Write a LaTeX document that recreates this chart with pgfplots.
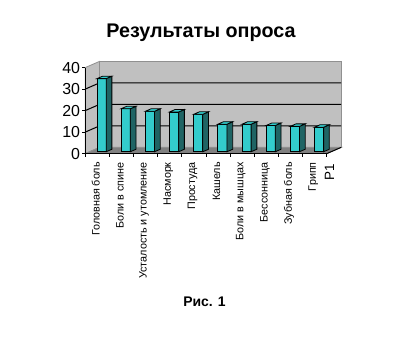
\documentclass[border=0pt]{standalone}
\usepackage{fontspec}
\setmainfont{Liberation Sans}
\usepackage{pgfplots}
\pgfplotsset{compat=1.18}
\usepackage{pgfplotstable}
\definecolor{wallgray}{HTML}{C0C0C0}
\definecolor{floorgray}{HTML}{808080}
\definecolor{edgegray}{HTML}{909090}
\definecolor{barfront}{HTML}{33CCCC}
\definecolor{barside}{HTML}{1F6464}
\definecolor{bartop}{HTML}{33CCCC}

\pgfplotstableread{
x v
0.5 34
1.5 20
2.5 18.8
3.5 18.5
4.5 17.4
5.5 12.8
6.5 12.8
7.5 12.2
8.5 11.8
9.5 11.4
}\datatable

% 3D column drawn around the data point (c, v) on the front plane
\pgfdeclareplotmark{bar3d}{%
  \pgfmathsetmacro\yb{1.86-\val*2.15}%
  \pgfmathsetmacro\ybb{4.34-\val*2.15}%
  \pgfsetlinewidth{0.8bp}%
  \pgfsetstrokecolor{black}%
  % front face
  \pgfsetfillcolor{barfront}%
  \pgfpathmoveto{\pgfqpoint{-0.31bp}{\yb bp}}%
  \pgfpathlineto{\pgfqpoint{8.89bp}{\yb bp}}%
  \pgfpathlineto{\pgfqpoint{8.89bp}{1.86bp}}%
  \pgfpathlineto{\pgfqpoint{-0.31bp}{1.86bp}}%
  \pgfpathclose
  \pgfusepath{fill,stroke}%
  % side face
  \pgfsetfillcolor{barside}%
  \pgfpathmoveto{\pgfqpoint{8.89bp}{\yb bp}}%
  \pgfpathlineto{\pgfqpoint{14.61bp}{\ybb bp}}%
  \pgfpathlineto{\pgfqpoint{14.61bp}{4.34bp}}%
  \pgfpathlineto{\pgfqpoint{8.89bp}{1.86bp}}%
  \pgfpathclose
  \pgfusepath{fill,stroke}%
  % top face
  \pgfsetfillcolor{bartop}%
  \pgfpathmoveto{\pgfqpoint{-0.31bp}{1.86bp}}%
  \pgfpathlineto{\pgfqpoint{8.89bp}{1.86bp}}%
  \pgfpathlineto{\pgfqpoint{14.61bp}{4.34bp}}%
  \pgfpathlineto{\pgfqpoint{5.41bp}{4.34bp}}%
  \pgfpathclose
  \pgfusepath{fill,stroke}%
}

\begin{document}
\begin{tikzpicture}
\path[use as bounding box] (0,0) rectangle (403bp,354bp);
\begin{axis}[
  at={(85.2bp,200.4bp)}, anchor=south west,
  x=24.16bp, y=2.15bp,
  xmin=0, xmax=10, ymin=0, ymax=40,
  clip=false,
  axis on top,
  axis x line*=bottom, axis y line*=left,
  axis line style={black, line width=1bp, -},
  ytick={0,10,20,30,40},
  tick align=outside,
  major tick length=3bp,
  minor tick length=3bp,
  tick style={black, line width=1bp},
  xtick={0.5,1.5,...,9.5},
  minor xtick={0,1,...,10},
  major x tick style={draw=none},
  xticklabels={Головная боль, Боли в спине, Усталость и утомление, Насморк, Простуда, Кашель, Боли в мышцах, Бессонница, Зубная боль, Грипп},
  xticklabel style={font=\fontsize{10.8}{11}\selectfont, rotate=90, anchor=east, inner sep=0pt, xshift=-5.5bp, yshift=1.5bp},
  yticklabel style={font=\fontsize{16}{16}\selectfont, inner sep=0pt, xshift=-2bp},
  /pgf/number format/assume math mode=true,
]
% walls and floor
\addplot[fill=wallgray, draw=edgegray, line width=0.8bp] coordinates {(0.592,2.884) (10.592,2.884) (10.592,42.884) (0.592,42.884)} -- cycle;
\addplot[fill=wallgray, draw=edgegray, line width=0.8bp] coordinates {(0,0) (0.592,2.884) (0.592,42.884) (0,40)} -- cycle;
\addplot[fill=floorgray, draw=edgegray, line width=0.8bp] coordinates {(0,0) (10,0) (10.592,2.884) (0.592,2.884)} -- cycle;
% gridlines
\addplot[black, line width=1bp, unbounded coords=jump] coordinates {
(0,10) (0.592,12.884) (10.592,12.884) (nan,nan)
(0,20) (0.592,22.884) (10.592,22.884) (nan,nan)
(0,30) (0.592,32.884) (10.592,32.884)};
% depth axis
\addplot[black, line width=1bp] coordinates {(10,0) (10.592,2.884)};
% bars
\addplot[only marks, mark=bar3d, visualization depends on={\thisrow{v} \as \val}] table[x=x, y=v] {\datatable};
\end{axis}
\node[font=\bfseries\fontsize{19.8}{21}\selectfont, anchor=base] at (201bp,316.7bp) {Результаты опроса};
\node[font=\bfseries\fontsize{14}{15}\selectfont, anchor=base] at (204.5bp,47.3bp) {Рис. 1};
\node[font=\fontsize{13.5}{13.5}\selectfont, rotate=90, anchor=base east, inner sep=0pt] at (334bp,189.7bp) {Р1};
\end{tikzpicture}
\end{document}
